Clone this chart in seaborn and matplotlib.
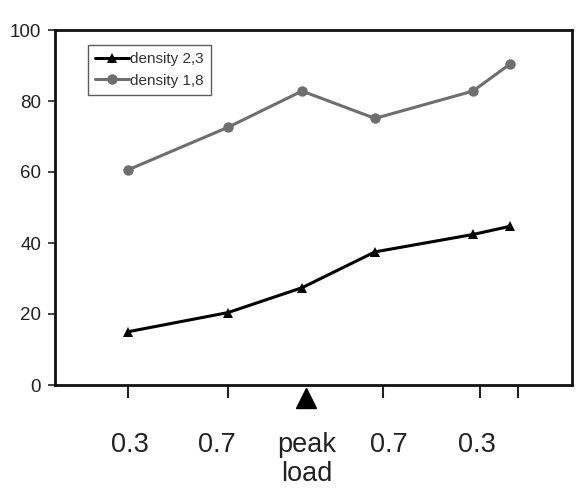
import matplotlib
matplotlib.use("Agg")
import matplotlib.pyplot as plt
import matplotlib.transforms as mtransforms
import seaborn as sns
import pandas as pd

# ---- data ----
x_pos = [1.0, 2.0, 2.74, 3.47, 4.45, 4.82]
density_23 = [15.0, 20.4, 27.4, 37.5, 42.4, 44.7]
density_18 = [60.6, 72.6, 82.8, 75.1, 82.8, 90.4]
series_names = ["density 2,3", "density 1,8"]

tick_positions = [1.0, 2.0, 3.55, 4.52, 4.90]
label_positions = [1.02, 1.89, 2.79, 3.61, 4.49]
label_texts = ["0.3", "0.7", "peak\nload", "0.7", "0.3"]
peak_marker_x = 2.78
y_ticks = [0, 20, 40, 60, 80, 100]

sns.set_theme(style="white")
plt.rcParams['font.family'] = ['Liberation Sans', 'DejaVu Sans']

df = pd.DataFrame({
    "x": x_pos * 2,
    "y": density_23 + density_18,
    "series": [series_names[0]] * len(x_pos) + [series_names[1]] * len(x_pos),
})

fig = plt.figure(figsize=(5.8, 4.94), dpi=100)
ax = fig.add_axes([55 / 580, 1 - 385 / 494, (572 - 55) / 580, (385 - 30) / 494])

sns.lineplot(data=df, x="x", y="y", hue="series", style="series",
             markers={series_names[0]: "^", series_names[1]: "o"},
             dashes=False,
             palette={series_names[0]: "#000000", series_names[1]: "#6e6e6e"},
             linewidth=2.2, markersize=7.5, markeredgewidth=0, ax=ax)

ax.set_xlim(0.27, 5.44)
ax.set_ylim(0, 100)
ax.set_yticks(y_ticks)
ax.set_yticklabels([str(v) for v in y_ticks], fontsize=13.5, color="#222222")
ax.set_xticks(tick_positions)
ax.set_xticklabels([""] * len(tick_positions))
ax.set_xlabel("")
ax.set_ylabel("")
ax.tick_params(axis="x", direction="out", length=9, width=1.5, color="#222222", bottom=True)
ax.tick_params(axis="y", direction="out", length=5, width=1.2, color="#222222", left=True, pad=5)

for s in ["left", "bottom", "top", "right"]:
    ax.spines[s].set_visible(True)
    ax.spines[s].set_color("#111111")
    ax.spines[s].set_linewidth(2.0)

trans = mtransforms.blended_transform_factory(ax.transData, ax.transAxes)
for xp, txt in zip(label_positions, label_texts):
    ax.text(xp, -0.133, txt, transform=trans, ha="center", va="top",
            fontsize=19.5, color="#222222", linespacing=1.15)

ax.plot([peak_marker_x], [-0.037], transform=trans, marker="^", markersize=14,
        color="#000000", clip_on=False, linestyle="none")

leg = ax.legend(loc="upper left", bbox_to_anchor=(0.064, 0.957), fontsize=11,
                frameon=True, fancybox=False, edgecolor="#333333",
                handlelength=2.2, handletextpad=0.1, borderpad=0.45,
                labelspacing=0.5, borderaxespad=0)
leg.get_frame().set_linewidth(1.0)
for t in leg.get_texts():
    t.set_color("#333333")

fig.savefig("out.png", dpi=100)
